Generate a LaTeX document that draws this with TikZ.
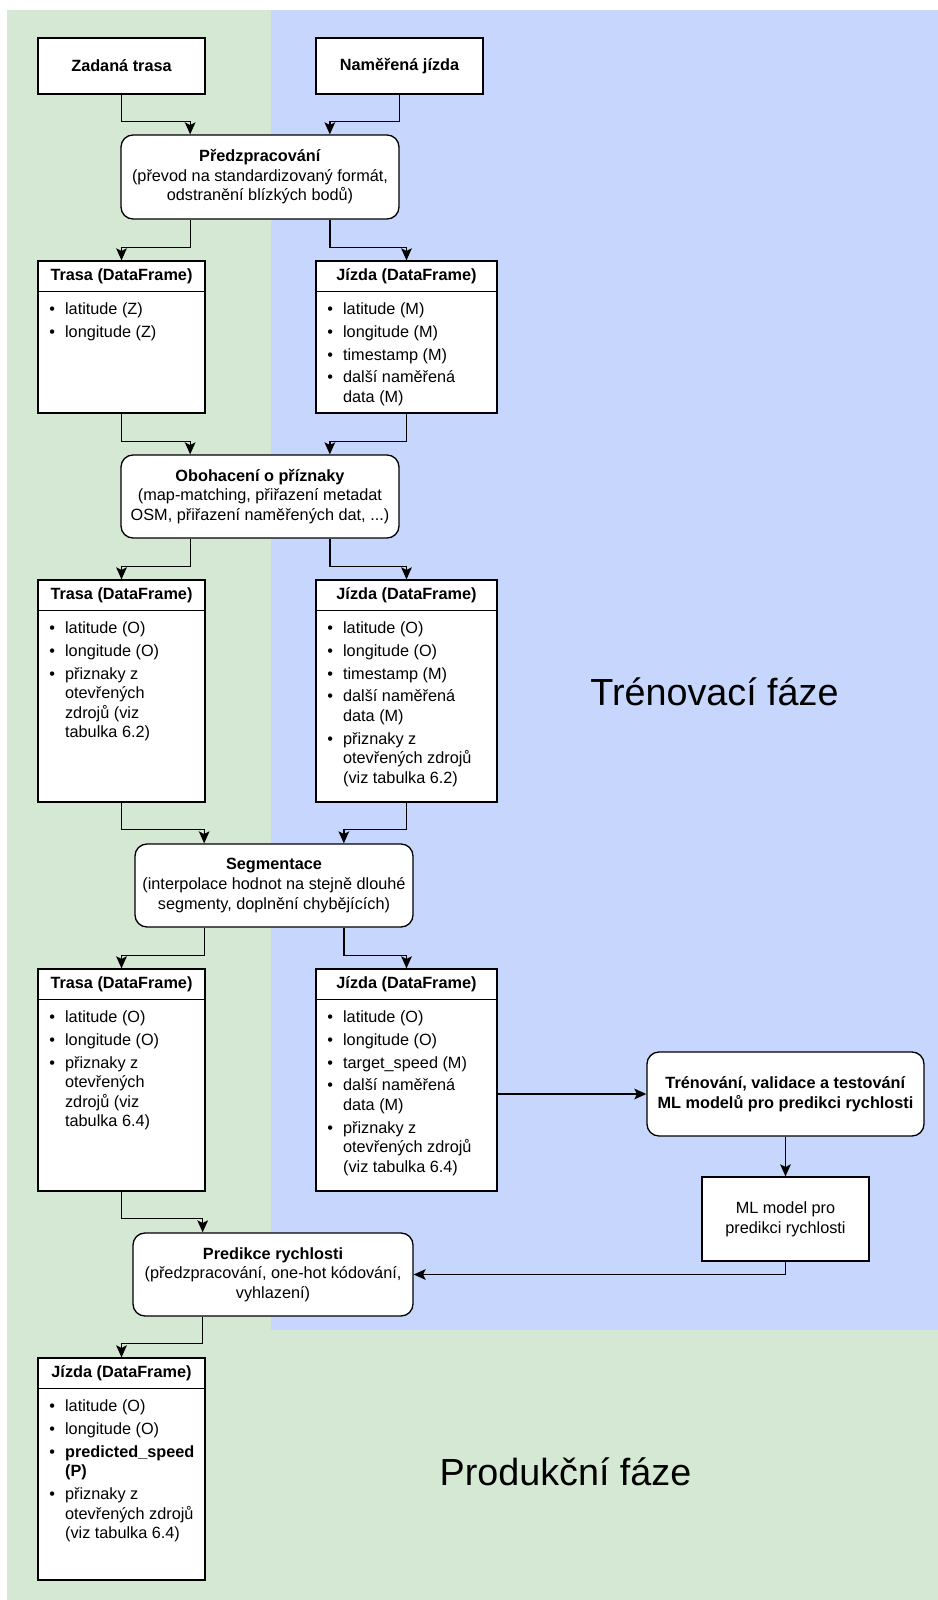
\documentclass[tikz,border=0pt]{standalone}
\usepackage{fontspec}
\setmainfont{Liberation Sans}
\usetikzlibrary{calc,arrows.meta}
\definecolor{bggreen}{RGB}{213,232,212}
\definecolor{bgblue}{RGB}{198,214,252}
\newcommand{\mkdfbox}[6]{%
  \node[box, minimum width=#3, minimum height=#4] (#1) at #2 {};
  \draw[line width=1pt] ($(#1.north west)+(0,31)$) -- ($(#1.north east)+(0,31)$);
  \node[inner sep=0pt, font=\bfseries\fontsize{12.2}{14.7}\selectfont] (#1t) at ($(#1.north)+(0,15.5)$) {#5};
  \node[inner sep=0pt, anchor=base west] (#1b) at ($(#1.north west)+(11.7,54.5)$)
    {\begin{tabular}[t]{@{}p{11.85pt}@{}l@{}}#6\end{tabular}};
}
\begin{document}
\begin{tikzpicture}[x=0.75pt,y=-0.75pt,
  every node/.style={font=\fontsize{12.2}{14.7}\selectfont, text=black},
  box/.style={draw, line width=1pt, fill=white, inner sep=0pt},
  rbox/.style={box, rounded corners=9pt, align=center},
  arr/.style={line width=1pt, -{Stealth[length=9pt,width=8pt,inset=2pt,fill=black]}},
  big/.style={font=\fontsize{28.3}{34}\selectfont, inner sep=0pt, anchor=base}
]
\useasboundingbox (0,0) rectangle (938,1600);
% backgrounds
\fill[bggreen] (7,10) rectangle (938,1600);
\fill[bgblue] (271,10) rectangle (938,1330);

% top inputs
\node[box, minimum width=125.25pt, minimum height=42pt, font=\bfseries\fontsize{12.2}{14.7}\selectfont] (zad) at (121.5,66) {Zadaná trasa};
\node[box, minimum width=125.25pt, minimum height=42pt, font=\bfseries\fontsize{12.2}{14.7}\selectfont] (nam) at (399.5,66) {Naměřená jízda};

\node[rbox, minimum width=208.5pt, minimum height=63pt] (pre) at (260,177)
  {\textbf{Předzpracování}\\(převod na standardizovaný formát,\\odstranění blízkých bodů)};

\mkdfbox{trasa1}{(121.5,337)}{125.25pt}{114pt}{Trasa (DataFrame)}
  {\textbullet & latitude (Z)\\[2.3pt] \textbullet & longitude (Z)\\}
\mkdfbox{jizda1}{(406.5,337)}{135.75pt}{114pt}{Jízda (DataFrame)}
  {\textbullet & latitude (M)\\[2.3pt] \textbullet & longitude (M)\\[2.3pt]
   \textbullet & timestamp (M)\\[2.3pt] \textbullet & další naměřená\\ & data (M)\\}

\node[rbox, minimum width=208.5pt, minimum height=62.25pt] (obo) at (260,496.5)
  {\textbf{Obohacení o příznaky}\\(map-matching, přiřazení metadat\\OSM, přiřazení naměřených dat, ...)};

\mkdfbox{trasa2}{(121.5,691)}{125.25pt}{166.5pt}{Trasa (DataFrame)}
  {\textbullet & latitude (O)\\[2.3pt] \textbullet & longitude (O)\\[2.3pt]
   \textbullet & přiznaky z\\ & otevřených\\ & zdrojů (viz\\ & tabulka 6.2)\\}
\mkdfbox{jizda2}{(406.5,691)}{135.75pt}{166.5pt}{Jízda (DataFrame)}
  {\textbullet & latitude (O)\\[2.3pt] \textbullet & longitude (O)\\[2.3pt]
   \textbullet & timestamp (M)\\[2.3pt] \textbullet & další naměřená\\ & data (M)\\[2.3pt]
   \textbullet & přiznaky z\\ & otevřených zdrojů\\ & (viz tabulka 6.2)\\}

\node[rbox, minimum width=208.5pt, minimum height=62.25pt] (seg) at (274,885.5)
  {\textbf{Segmentace}\\(interpolace hodnot na stejně dlouhé\\segmenty, doplnění chybějících)};

\mkdfbox{trasa3}{(121.5,1080)}{125.25pt}{166.5pt}{Trasa (DataFrame)}
  {\textbullet & latitude (O)\\[2.3pt] \textbullet & longitude (O)\\[2.3pt]
   \textbullet & přiznaky z\\ & otevřených\\ & zdrojů (viz\\ & tabulka 6.4)\\}
\mkdfbox{jizda3}{(406.5,1080)}{135.75pt}{166.5pt}{Jízda (DataFrame)}
  {\textbullet & latitude (O)\\[2.3pt] \textbullet & longitude (O)\\[2.3pt]
   \textbullet & target\_speed (M)\\[2.3pt] \textbullet & další naměřená\\ & data (M)\\[2.3pt]
   \textbullet & přiznaky z\\ & otevřených zdrojů\\ & (viz tabulka 6.4)\\}

\node[rbox, minimum width=207.75pt, minimum height=63pt] (train) at (785.5,1094)
  {\textbf{Trénování, validace a testování}\\\textbf{ML modelů pro predikci rychlosti}};
\node[box, align=center, minimum width=125.25pt, minimum height=63pt] (ml) at (785.5,1219)
  {ML model pro\\predikci rychlosti};

\node[rbox, minimum width=210pt, minimum height=62.25pt] (pred) at (273,1274.5)
  {\textbf{Predikce rychlosti}\\(předzpracování, one-hot kódování,\\vyhlazení)};

\mkdfbox{jizda4}{(121.5,1469)}{125.25pt}{166.5pt}{Jízda (DataFrame)}
  {\textbullet & latitude (O)\\[2.3pt] \textbullet & longitude (O)\\[2.3pt]
   \textbullet & \textbf{predicted\_speed}\\ & \textbf{(P)}\\[2.3pt]
   \textbullet & přiznaky z\\ & otevřených zdrojů\\ & (viz tabulka 6.4)\\}

% phase labels
\node[big] (trenfaze) at (714.5,705) {Trénovací fáze};
\node[big] (prodfaze) at (565.5,1485) {Produkční fáze};

% connectors
\draw[arr] (zad.south) -- ++(0,27) -| ($(pre.north west)!0.25!(pre.north east)$);
\draw[arr] (nam.south) -- ++(0,27) -| ($(pre.north west)!0.75!(pre.north east)$);
\draw[arr] ($(pre.south west)!0.25!(pre.south east)$) -- ++(0,28) -| (trasa1.north);
\draw[arr] ($(pre.south west)!0.75!(pre.south east)$) -- ++(0,28) -| (jizda1.north);
\draw[arr] (trasa1.south) -- ++(0,28) -| ($(obo.north west)!0.25!(obo.north east)$);
\draw[arr] (jizda1.south) -- ++(0,28) -| ($(obo.north west)!0.75!(obo.north east)$);
\draw[arr] ($(obo.south west)!0.25!(obo.south east)$) -- ++(0,28) -| (trasa2.north);
\draw[arr] ($(obo.south west)!0.75!(obo.south east)$) -- ++(0,28) -| (jizda2.north);
\draw[arr] (trasa2.south) -- ++(0,27) -| ($(seg.north west)!0.25!(seg.north east)$);
\draw[arr] (jizda2.south) -- ++(0,27) -| ($(seg.north west)!0.75!(seg.north east)$);
\draw[arr] ($(seg.south west)!0.25!(seg.south east)$) -- ++(0,28) -| (trasa3.north);
\draw[arr] ($(seg.south west)!0.75!(seg.south east)$) -- ++(0,28) -| (jizda3.north);
\draw[arr] (trasa3.south) -- ++(0,27) -| ($(pred.north west)!0.25!(pred.north east)$);
\draw[arr] (jizda3.east |- train.west) -- (train.west);
\draw[arr] (train.south) -- (ml.north);
\draw[arr] (ml.south) |- (pred.east);
\draw[arr] ($(pred.south west)!0.25!(pred.south east)$) -- ++(0,27) -| (jizda4.north);
\end{tikzpicture}
\end{document}
